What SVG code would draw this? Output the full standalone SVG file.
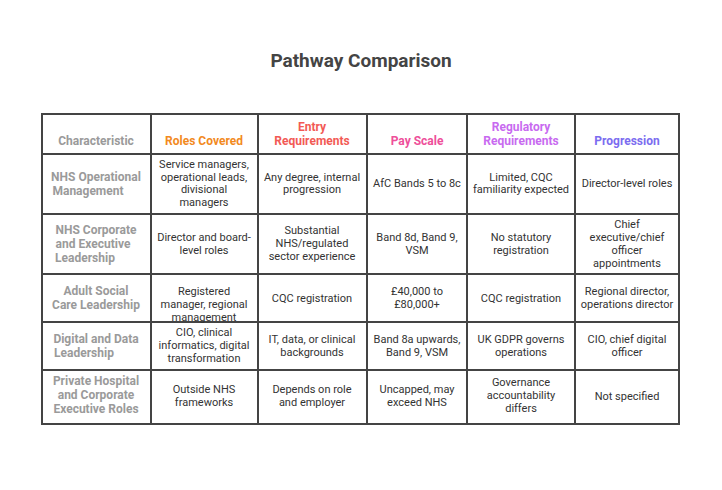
<svg xmlns="http://www.w3.org/2000/svg" width="722" height="490" viewBox="0 0 722 490">
<style>
text{font-family:Roboto,"Liberation Sans",sans-serif;text-anchor:middle;font-size:11px;fill:#333}
.h{font-weight:bold;font-size:12px}
.c{fill:#9a9a9a;font-weight:bold;font-size:12px}
.g line{stroke:#444;stroke-width:2}
</style>
<rect width="722" height="490" fill="#fff"/>
<text x="361" y="67" style="font-size:19px;font-weight:bold;fill:#444">Pathway Comparison</text>
<g class="g" id="grid">
<rect x="42" y="114" width="637" height="310" fill="none" stroke="#444" stroke-width="2"/>
<line x1="151" y1="114" x2="151" y2="424"/><line x1="258" y1="114" x2="258" y2="424"/>
<line x1="367" y1="114" x2="367" y2="424"/><line x1="467" y1="114" x2="467" y2="424"/>
<line x1="575" y1="114" x2="575" y2="424"/>
<line x1="42" y1="154" x2="679" y2="154"/><line x1="42" y1="214" x2="679" y2="214"/>
<line x1="42" y1="274" x2="679" y2="274"/><line x1="42" y1="322" x2="679" y2="322"/>
<line x1="42" y1="370" x2="679" y2="370"/>
</g>
<g id="header">
<text class="c" x="96" y="145">Characteristic</text>
<text class="h" x="204" y="145" style="fill:#f28a1e">Roles Covered</text>
<text class="h" x="312" y="131" style="fill:#f25a55">Entry</text><text class="h" x="312" y="145" style="fill:#f25a55">Requirements</text>
<text class="h" x="417" y="145" style="fill:#ee4f9a">Pay Scale</text>
<text class="h" x="521" y="131" style="fill:#c86af0">Regulatory</text><text class="h" x="521" y="145" style="fill:#c86af0">Requirements</text>
<text class="h" x="627" y="145" style="fill:#7b6cf0">Progression</text>
</g>
<g id="row1">
<text class="c" x="96" y="181">NHS Operational</text><text class="c" x="88" y="195">Management</text>
<text x="204" y="168">Service managers,</text><text x="204" y="181">operational leads,</text><text x="204" y="193">divisional</text><text x="204" y="206">managers</text>
<text x="312" y="181">Any degree, internal</text><text x="312" y="193">progression</text>
<text x="417" y="187">AfC Bands 5 to 8c</text>
<text x="521" y="181">Limited, CQC</text><text x="521" y="193">familiarity expected</text>
<text x="627" y="187">Director-level roles</text>
</g>
<g id="row2">
<text class="c" x="96" y="234">NHS Corporate</text><text class="c" x="93" y="248">and Executive</text><text class="c" x="85" y="262">Leadership</text>
<text x="204" y="241">Director and board-</text><text x="204" y="254">level roles</text>
<text x="312" y="234">Substantial</text><text x="312" y="247">NHS/regulated</text><text x="312" y="260">sector experience</text>
<text x="417" y="241">Band 8d, Band 9,</text><text x="417" y="254">VSM</text>
<text x="521" y="241">No statutory</text><text x="521" y="254">registration</text>
<text x="627" y="228">Chief</text><text x="627" y="241">executive/chief</text><text x="627" y="254">officer</text><text x="627" y="267">appointments</text>
</g>
<g id="row3">
<text class="c" x="96" y="295">Adult Social</text><text class="c" x="96" y="309">Care Leadership</text>
<text x="204" y="295">Registered</text><text x="204" y="308">manager, regional</text><text x="204" y="321" dy="-8"> </text><text x="204" y="321">management</text>
<text x="312" y="302">CQC registration</text>
<text x="417" y="295">£40,000 to</text><text x="417" y="308">£80,000+</text>
<text x="521" y="302">CQC registration</text>
<text x="627" y="295">Regional director,</text><text x="627" y="308">operations director</text>
</g>
<g id="row4">
<text class="c" x="96" y="343">Digital and Data</text><text class="c" x="84" y="357">Leadership</text>
<text x="204" y="336">CIO, clinical</text><text x="204" y="349">informatics, digital</text><text x="204" y="362">transformation</text>
<text x="312" y="343">IT, data, or clinical</text><text x="312" y="356">backgrounds</text>
<text x="417" y="343">Band 8a upwards,</text><text x="417" y="356">Band 9, VSM</text>
<text x="521" y="343">UK GDPR governs</text><text x="521" y="356">operations</text>
<text x="627" y="343">CIO, chief digital</text><text x="627" y="356">officer</text>
</g>
<g id="row5">
<text class="c" x="96" y="385">Private Hospital</text><text class="c" x="96" y="399">and Corporate</text><text class="c" x="96" y="413">Executive Roles</text>
<text x="204" y="393">Outside NHS</text><text x="204" y="406">frameworks</text>
<text x="312" y="393">Depends on role</text><text x="312" y="406">and employer</text>
<text x="417" y="393">Uncapped, may</text><text x="417" y="406">exceed NHS</text>
<text x="521" y="386">Governance</text><text x="521" y="399">accountability</text><text x="521" y="412">differs</text>
<text x="627" y="400">Not specified</text>
</g>
</svg>
